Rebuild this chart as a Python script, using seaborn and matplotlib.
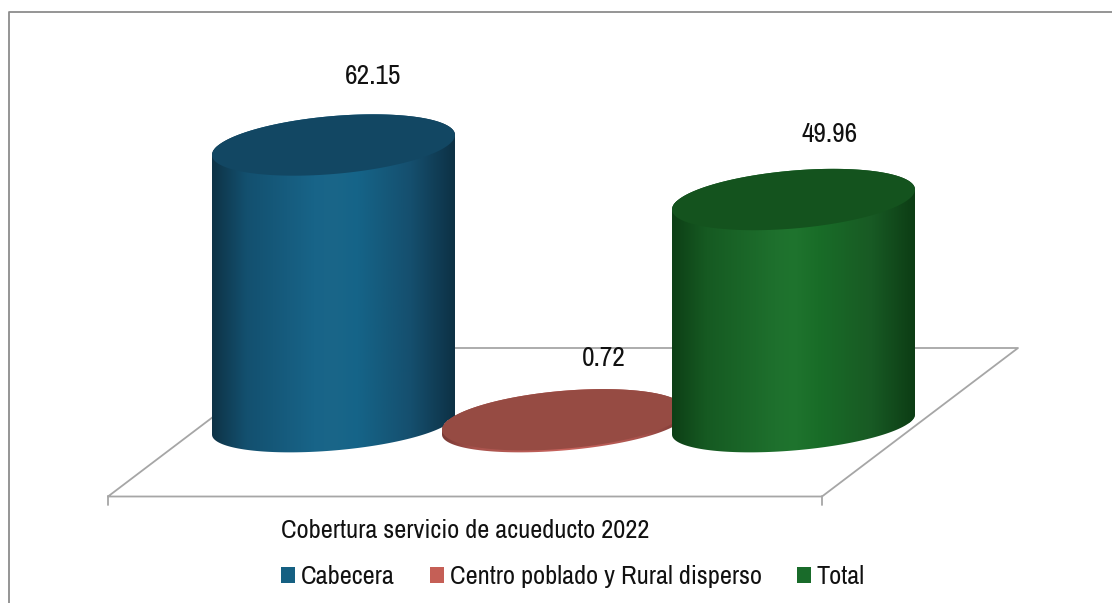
import numpy as np
import pandas as pd
import matplotlib
matplotlib.use("Agg")
import matplotlib.pyplot as plt
from matplotlib import font_manager as fm
from matplotlib.colors import LinearSegmentedColormap
from matplotlib.lines import Line2D
from matplotlib.patches import Patch
from matplotlib.path import Path
from matplotlib.transforms import Affine2D
import seaborn as sns

categories = ["Cabecera", "Centro poblado y Rural disperso", "Total"]
values = [62.15, 0.72, 49.96]
labels = ["62.15", "0.72", "49.96"]
axis_title = "Cobertura servicio de acueducto 2022"

legend_colors = ["#156082", "#C55F56", "#196B2A"]
top_colors = ["#124763", "#964B43", "#14531E"]
side_stops = [
    ["#0E3346", "#13506F", "#186488", "#1A6689", "#156488", "#154F6E", "#0D3145"],
    ["#7A3A35", "#A9534D", "#C0605A", "#C8635C", "#C0605A", "#A9534D", "#7A3A35"],
    ["#0D3F16", "#165A22", "#1E702D", "#1F742E", "#196D28", "#185A24", "#0C3C14"],
]
stop_pos = [0.0, 0.14, 0.42, 0.5, 0.6, 0.82, 1.0]
label_offsets = [(40, 69), (40, 61), (36, 65)]

W, H = 1112, 603
X0, DX = 333.5, 230.0
Y0, DY = 423.0, 4.473
HALF_W, HALF_H, BASE_H, SHEAR = 121.5, 29.0, 26.0, 10.0

sns.set_theme(style="white")
avail = {f.name for f in fm.fontManager.ttflist}
narrow = "Archivo Narrow" in avail
plt.rcParams["font.family"] = ["Archivo Narrow" if narrow else "Liberation Sans", "DejaVu Sans"]
FS = 19 if narrow else 16
FS_LABEL = 19.7 if narrow else 16

fig = plt.figure(figsize=(W / 100, H / 100), dpi=100, facecolor="white")
ax = fig.add_axes([0, 0, 1, 1])
df = pd.DataFrame({"categoria": categories, "valor": values})
sns.barplot(data=df, x="categoria", y="valor", hue="categoria", palette=legend_colors,
            width=2 * HALF_W / DX, legend=False, saturation=1, ax=ax, zorder=2)
xlim = (-X0 / DX, (W - X0) / DX)
ylim = ((Y0 - H) / DY, Y0 / DY)


def ring(i, v, t, half_h=HALF_H, drop=0.0):
    return (i + HALF_W * np.cos(t) / DX,
            v + (half_h * np.sin(t) + SHEAR * np.cos(t) - drop) / DY)


# floor and frame, in reference pixels
px = Affine2D().scale(1 / W, -1 / H).translate(0, 1) + fig.transFigure
grey = "#A6A6A6"
for xs, ys in [([108, 822, 1018, 304, 108], [496.5, 496.5, 348, 348, 496.5]),
               ([108, 108], [496, 505]), ([822, 822], [496, 505])]:
    ax.add_line(Line2D(xs, ys, color=grey, lw=1.3, transform=px, zorder=1))
ax.add_line(Line2D([8.5, 8.5, W], [H, 11.5, 11.5], color="#8C8C8C", lw=1.3, transform=px, zorder=1))

bars = list(ax.patches)
for i, (bar, v) in enumerate(zip(bars, values)):
    z = 3 + 2 * i
    lower = np.linspace(np.pi, 2 * np.pi, 90)
    upper = np.linspace(0, np.pi, 90)
    bx, by = ring(i, 0, lower, BASE_H, 1.5)
    tx, ty = ring(i, v, upper)
    verts = np.column_stack([np.r_[bx, tx], np.r_[by, ty]])
    outline = Path(np.vstack([verts, verts[:1]]), closed=True)
    bar.set_zorder(z)
    bar.set_clip_path(outline, ax.transData)
    cmap = LinearSegmentedColormap.from_list(f"side{i}", list(zip(stop_pos, side_stops[i])))
    im = ax.imshow(np.linspace(0, 1, 256)[None, :], cmap=cmap, aspect="auto",
                   extent=(i - HALF_W / DX, i + HALF_W / DX, -60 / DY, v + 60 / DY),
                   zorder=z, interpolation="bilinear")
    im.set_clip_path(outline, ax.transData)
    t = np.linspace(0, 2 * np.pi, 240)
    cx, cy = ring(i, v, t)
    ax.fill(cx, cy, color=top_colors[i], lw=0, zorder=z + 0.5)
    ax.annotate(labels[i], (i, v), xytext=label_offsets[i], textcoords="offset pixels",
                ha="center", va="center", fontsize=FS_LABEL, color="#111111", zorder=20)

ax.set_xlim(*xlim)
ax.set_ylim(*ylim)
ax.axis("off")

ax.text(465.5, 530, axis_title, transform=px, ha="center", va="center", fontsize=FS, color="#111111")
handles = [Patch(facecolor=c, edgecolor="none", label=n) for c, n in zip(legend_colors, categories)]
ax.legend(handles=handles, ncol=3, frameon=False, fontsize=FS, loc="center left",
          bbox_to_anchor=(281 / W, 1 - 577 / H), borderaxespad=0, borderpad=0,
          handlelength=0.53, handleheight=0.53, handletextpad=0.22, columnspacing=1.33,
          labelcolor="#111111")

fig.savefig("out.png", dpi=100, facecolor="white")
